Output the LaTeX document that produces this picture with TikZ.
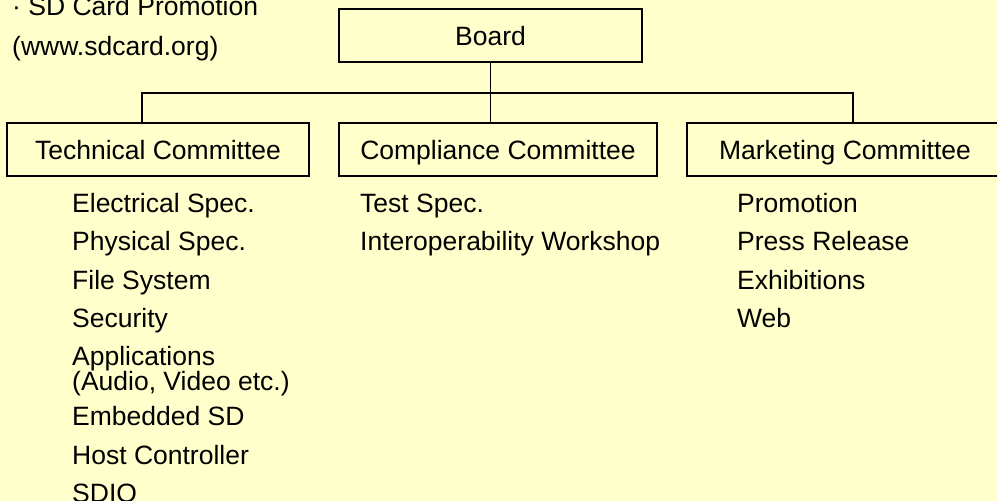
\documentclass[tikz,border=0pt]{standalone}
\usepackage{fontspec}
\setmainfont{Liberation Sans}
\definecolor{bgyellow}{HTML}{FFFFCC}
\begin{document}
\begin{tikzpicture}[x=1pt,y=-1pt,
  every node/.style={font=\fontsize{26.5}{30}\selectfont},
  box/.style={draw=black,line width=1.4pt,rectangle,inner sep=0pt,text height=19pt,text depth=0pt,minimum height=53pt},
  item/.style={anchor=base west,inner sep=0pt},
  link/.style={draw=black,line width=1.4pt}]
\useasboundingbox (0,0) rectangle (997,501);
\fill[bgyellow] (0,0) rectangle (997,501);
\clip (0,0) rectangle (997,501);
% top-left caption
\node[item] (cap1) at (12,15) {· SD Card Promotion};
\node[item] (cap2) at (12,55) {(www.sdcard.org)};
% boxes
\node[box,minimum width=303pt] (board) at (490.5,35.5) {Board};
\node[box,minimum width=302pt] (tech) at (158,149.5) {Technical Committee};
\node[box,minimum width=318pt] (comp) at (498,149.5) {Compliance Committee};
\node[box,minimum width=316pt] (mark) at (845,149.5) {Marketing Committee};
% connectors
\coordinate (bus) at (490,93);
\draw[link] (board.south) -- (board.south |- comp.north);
\draw[link] ([xshift=-16pt]tech.north) |- (bus) -| ([xshift=8pt]mark.north);
% technical items
\node[item] (t1) at (72,212.3) {Electrical Spec.};
\node[item] (t2) at (72,250.7) {Physical Spec.};
\node[item] (t3) at (72,289) {File System};
\node[item] (t4) at (72,327.3) {Security};
\node[item] (t5) at (72,365.7) {Applications};
\node[item] (t5b) at (72,390.7) {(Audio, Video etc.)};
\node[item] (t6) at (72,425.7) {Embedded SD};
\node[item] (t7) at (72,464) {Host Controller};
\node[item] (t8) at (72,502.3) {SDIO};
% compliance items
\node[item] (c1) at (360,212.3) {Test Spec.};
\node[item] (c2) at (360,250.7) {Interoperability Workshop};
% marketing items
\node[item] (m1) at (737,212.3) {Promotion};
\node[item] (m2) at (737,250.7) {Press Release};
\node[item] (m3) at (737,289) {Exhibitions};
\node[item] (m4) at (737,327.3) {Web};
\end{tikzpicture}
\end{document}
